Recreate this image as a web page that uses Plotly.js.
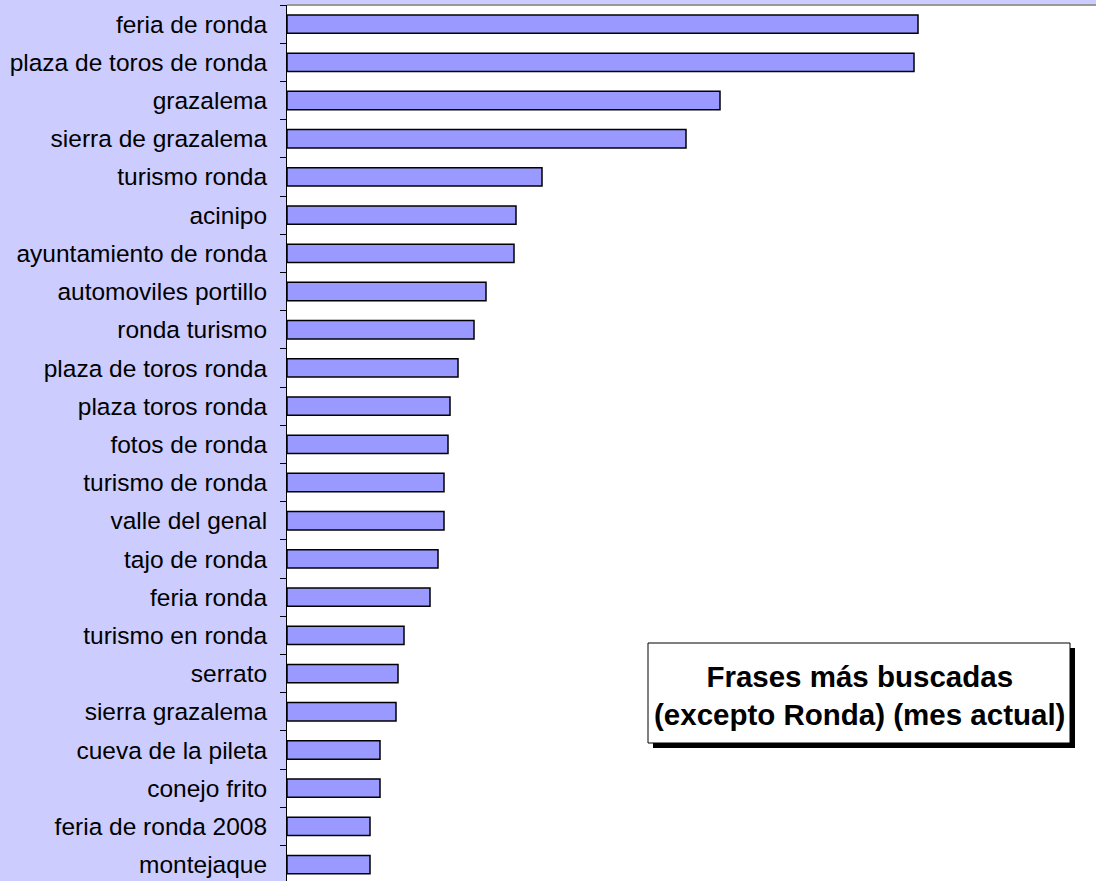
<!DOCTYPE html>
<html>
<head>
<meta charset="utf-8">
<script src="https://cdn.plot.ly/plotly-3.0.1.min.js"></script>
<style>html,body{margin:0;padding:0;background:#ccccff;}#chart{width:1096px;height:881px;}</style>
</head>
<body>
<div id="chart"></div>
<script>
const categories = ["feria de ronda","plaza de toros de ronda","grazalema","sierra de grazalema","turismo ronda","acinipo","ayuntamiento de ronda","automoviles portillo","ronda turismo","plaza de toros ronda","plaza toros ronda","fotos de ronda","turismo de ronda","valle del genal","tajo de ronda","feria ronda","turismo en ronda","serrato","sierra grazalema","cueva de la pileta","conejo frito","feria de ronda 2008","montejaque"];
const values = [631,627,433,399,255,229,227,199,187,171,163,161,157,157,151,143,117,111,109,93,93,83,83];
const titleLines = ["Frases más buscadas","(excepto Ronda) (mes actual)"];

const W = 1096, H = 881, L = 287, T = 5;
const pw = W - L, ph = H - T;
const px = x => (x - L) / pw;
const py = y => 1 - (y - T) / ph;

const trace = {
  type: 'bar', orientation: 'h',
  x: values, y: categories,
  width: 0.48,
  marker: {color: '#9999ff', line: {color: '#000000', width: 1.5}},
  hoverinfo: 'x+y'
};

const layout = {
  width: W, height: H,
  margin: {l: L, r: 0, t: T, b: 0, pad: 0},
  paper_bgcolor: '#ccccff',
  plot_bgcolor: '#ffffff',
  showlegend: false,
  bargap: 0.52,
  xaxis: {range: [0, 809], showgrid: false, zeroline: false, showticklabels: false, ticks: '', showline: false, fixedrange: true},
  yaxis: {
    type: 'category', categoryorder: 'array', categoryarray: categories,
    range: [22.43, -0.5],
    showgrid: false, zeroline: false,
    showline: true, linecolor: '#000000', linewidth: 1,
    ticks: 'outside', ticklen: 6, tickcolor: '#000000', tickwidth: 1,
    tickson: 'boundaries',
    ticklabelstandoff: 14,
    tickfont: {family: 'Liberation Sans, Arial, sans-serif', size: 24.5, color: '#000000'},
    fixedrange: true
  },
  shapes: [
    {type: 'line', xref: 'paper', yref: 'paper', x0: 0, x1: 1, y0: 1, y1: 1, line: {color: '#999999', width: 2}},
    {type: 'rect', xref: 'paper', yref: 'paper', layer: 'above', x0: px(653), x1: px(1075), y0: py(748), y1: py(648), fillcolor: '#000000', line: {width: 0}},
    {type: 'rect', xref: 'paper', yref: 'paper', layer: 'above', x0: px(648), x1: px(1070), y0: py(743), y1: py(643), fillcolor: '#ffffff', line: {color: '#000000', width: 1}}
  ],
  annotations: [{
    xref: 'paper', yref: 'paper', x: px(859), y: py(695), xanchor: 'center', yanchor: 'middle',
    text: '<b>' + titleLines.join('<br>') + '</b>', showarrow: false, align: 'center',
    font: {family: 'Liberation Sans, Arial, sans-serif', size: 29.5, color: '#000000'}
  }]
};

Plotly.newPlot('chart', [trace], layout, {displayModeBar: false, staticPlot: true});
</script>
</body>
</html>
